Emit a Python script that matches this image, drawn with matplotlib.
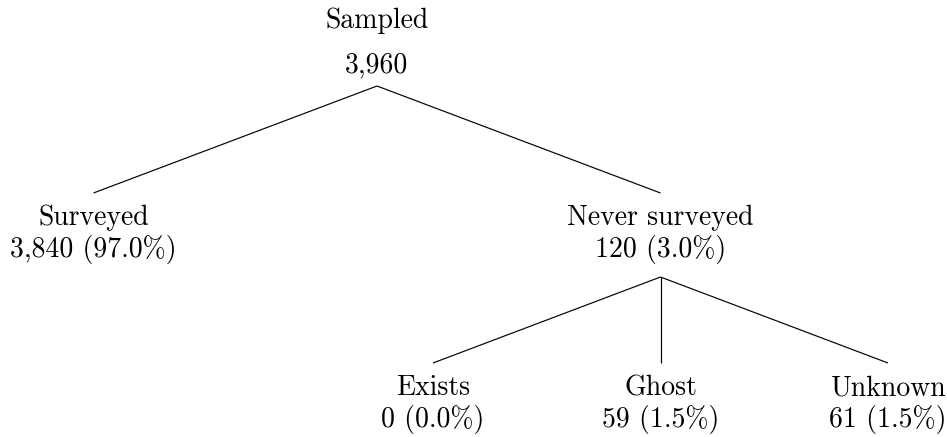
import matplotlib
matplotlib.use("Agg")
import matplotlib.pyplot as plt

# ---------------------------------------------------------------------------
# Tree data
# ---------------------------------------------------------------------------

node_names   = ["Sampled", "Surveyed", "Never surveyed", "Exists", "Ghost", "Unknown"]
node_counts  = [3960, 3840, 120, 0, 59, 61]
node_parents = [None, 0, 0, 2, 2, 2]

total = node_counts[0]

# ---------------------------------------------------------------------------
# Layout (pixels, y down)
# ---------------------------------------------------------------------------

W, H = 947, 437
root_x      = 377
level_gap   = [0, 567, 227.5]      # horizontal spacing between siblings
label_base  = [28, 225, 395]       # baseline of the name
count_base  = [72, 257, 427]       # baseline of the count line
line_top    = [None, 193, 363]     # where the incoming edge ends
line_bottom = [86, 277, None]      # where the outgoing edges start


def depth(i):
    d = 0
    while node_parents[i] is not None:
        i = node_parents[i]
        d += 1
    return d


n = len(node_names)
levels = [depth(i) for i in range(n)]
xs = [0.0] * n
xs[0] = root_x
for i in range(1, n):
    p = node_parents[i]
    sibs = [j for j in range(n) if node_parents[j] == p]
    k = sibs.index(i)
    xs[i] = xs[p] + (k - (len(sibs) - 1) / 2) * level_gap[levels[i]]

# ---------------------------------------------------------------------------
# Draw
# ---------------------------------------------------------------------------

fig = plt.figure(figsize=(W / 100, H / 100), dpi=100)
ax = fig.add_axes([0, 0, 1, 1])
ax.set_xlim(0, W)
ax.set_ylim(H, 0)
ax.axis("off")

font = dict(fontfamily="cmr10", fontsize=20, ha="center", va="baseline", color="black")

for i, name in enumerate(node_names):
    lv = levels[i]
    if i == 0:
        count_txt = f"{node_counts[i]:,}"
    else:
        count_txt = f"{node_counts[i]:,} ({node_counts[i] / total * 100:.1f}%)"
    ax.text(xs[i], label_base[lv], name, **font)
    ax.text(xs[i], count_base[lv], count_txt, **font)

    p = node_parents[i]
    if p is not None:
        ax.plot([xs[p], xs[i]], [line_bottom[levels[p]], line_top[lv]],
                color="black", lw=0.85, solid_capstyle="butt")

fig.savefig("out.png", dpi=100, facecolor="white")
